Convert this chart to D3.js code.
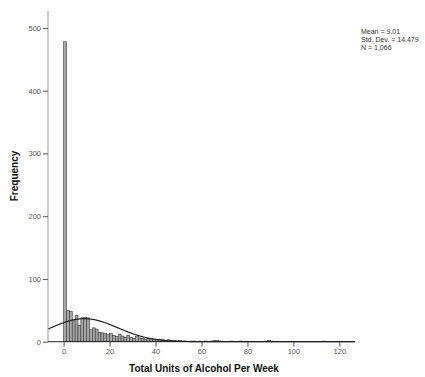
<!DOCTYPE html>
<html>
<head>
<meta charset="utf-8">
<script src="https://cdn.jsdelivr.net/npm/d3@7"></script>
<style>
  html, body { margin: 0; padding: 0; background: #fff; }
  svg { display: block; }
  .tick text { font-family: "Liberation Sans", Arial, sans-serif; font-size: 7.5px; fill: #555; }
</style>
</head>
<body>
<svg id="chart" width="425" height="377"></svg>
<script>
// Histogram of weekly alcohol units, bins start at 0
const binWidth = 1.25;
const counts = [478, 50, 48, 35, 42, 26, 38, 39, 38,
                19, 22, 20, 15, 14, 13, 12,
                13, 10, 8, 12, 9, 7, 10, 7,
                5, 8, 6, 5, 4, 5, 3, 4,
                3, 4, 3, 2, 3, 2, 2, 1, 2, 1, 1, 0, 1, 1, 0, 1,
                0, 1, 0, 1, 2, 2, 1, 0, 0, 0, 1, 0, 0, 1, 0, 0,
                0, 0, 0, 0, 0, 0, 1, 2, 1, 0, 0, 0, 0, 0, 0, 0,
                0, 0, 0, 0, 0, 0, 0, 0, 0, 0, 1];
const yTicks = [0, 100, 200, 300, 400, 500];
const xTicks = [0, 20, 40, 60, 80, 100, 120];
const stats = { mean: 9.01, sd: 14.479, n: 1066 };
const statLines = ["Mean = 9.01", "Std. Dev. = 14.479", "N = 1,066"];

const svg = d3.select("#chart");
const x = d3.scaleLinear().domain([-6.8, 126.8]).range([48, 355]);
const y = d3.scaleLinear().domain([0, 527]).range([341.7, 11]);

const bins = counts.map((c, i) => ({ x0: i * binWidth, x1: (i + 1) * binWidth, count: c }));

// bars
svg.append("g").selectAll("rect")
  .data(bins.filter(d => d.count > 0))
  .join("rect")
  .attr("x", d => x(d.x0))
  .attr("width", d => x(d.x1) - x(d.x0))
  .attr("y", d => y(d.count))
  .attr("height", d => y(0) - y(d.count))
  .attr("fill", "#a6a6a6")
  .attr("stroke", "#3a3a3a")
  .attr("stroke-width", 0.6);

// fitted normal curve scaled to counts per bin
const curvePts = d3.range(-6.8, 126.81, 0.2).map(v => {
  const z = (v - stats.mean) / stats.sd;
  return [v, stats.n * binWidth / (stats.sd * Math.sqrt(2 * Math.PI)) * Math.exp(-0.5 * z * z)];
});
svg.append("path")
  .datum(curvePts)
  .attr("fill", "none")
  .attr("stroke", "#222")
  .attr("stroke-width", 1.2)
  .attr("d", d3.line().x(d => x(d[0])).y(d => y(d[1])));

// y axis
const yAxis = svg.append("g")
  .attr("transform", `translate(${x(-6.8)},0)`)
  .call(d3.axisLeft(y).tickValues(yTicks).tickSize(5).tickPadding(2));
yAxis.select(".domain").attr("stroke", "#999").attr("d", `M0,${y(527)}V${y(0)}`);
yAxis.selectAll(".tick line").attr("stroke", "#555");

// x axis
const xAxis = svg.append("g")
  .attr("transform", `translate(0,${y(0)})`)
  .call(d3.axisBottom(x).tickValues(xTicks).tickSize(5).tickPadding(2));
xAxis.select(".domain").attr("stroke", "#222").attr("d", `M${x(-6.8)},0H${x(126.8)}`);
xAxis.selectAll(".tick line").attr("stroke", "#555");

// axis titles
svg.append("text")
  .attr("transform", `translate(18,176) rotate(-90)`)
  .attr("text-anchor", "middle")
  .attr("font-family", "Liberation Sans, Arial, sans-serif")
  .attr("font-weight", "bold")
  .attr("font-size", 10)
  .attr("fill", "#111")
  .text("Frequency");

svg.append("text")
  .attr("x", 204).attr("y", 372)
  .attr("text-anchor", "middle")
  .attr("font-family", "Liberation Sans, Arial, sans-serif")
  .attr("font-weight", "bold")
  .attr("font-size", 10)
  .attr("fill", "#111")
  .text("Total Units of Alcohol Per Week");

// summary statistics
svg.append("g").selectAll("text")
  .data(statLines)
  .join("text")
  .attr("x", 361)
  .attr("y", (d, i) => 34 + i * 8)
  .attr("font-family", "Liberation Sans, Arial, sans-serif")
  .attr("font-size", 7)
  .attr("fill", "#333")
  .text(d => d);
</script>
</body>
</html>
